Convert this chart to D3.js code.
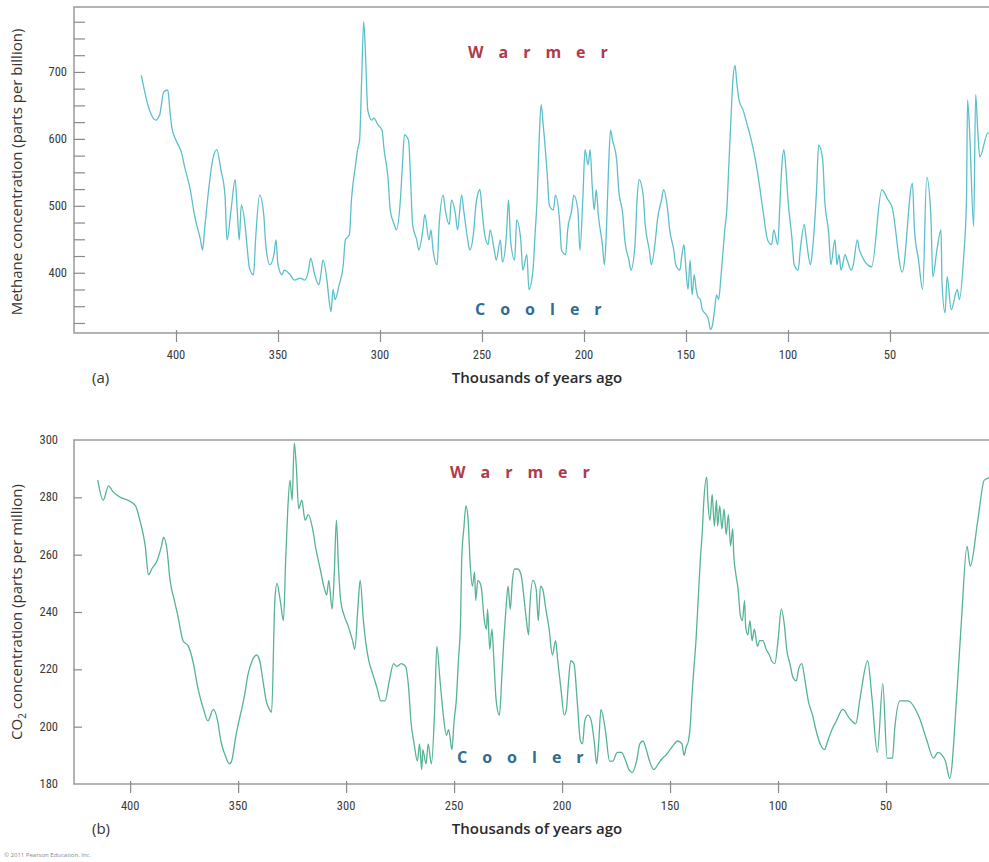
<!DOCTYPE html>
<html>
<head>
<meta charset="utf-8">
<script src="https://cdn.jsdelivr.net/npm/d3@7"></script>
<style>
  body { margin: 0; background: #fff; }
  svg { display: block; font-family: "Liberation Sans Narrow", "Roboto Condensed", "Liberation Sans", sans-serif; }
  .frame { stroke: #9a9a9a; stroke-width: 1.5; fill: none; }
  .tick line { stroke: #8a8a8a; stroke-width: 1.2; }
  .ticklab { font-size: 12.5px; fill: #3a3a3a; }
  .xtitle { font-family: "Open Sans", sans-serif; font-size: 15px; font-weight: 600; fill: #2a2a2a; }
  .ytitle { font-family: "Open Sans", sans-serif; font-size: 15px; fill: #333; }
  .panel { font-family: "Open Sans", sans-serif; font-size: 15px; fill: #333; }
  .warm { font-family: "Open Sans", sans-serif; font-size: 16px; font-weight: bold; fill: #b03a4b; letter-spacing: 15px; }
  .cool { font-family: "Open Sans", sans-serif; font-size: 16px; font-weight: bold; fill: #2f6d93; letter-spacing: 15px; }
</style>
</head>
<body>
<div id="chart"></div>
<script>
// methane record, thousands of years ago / ppb
const ch4Age = [417,413,410,408,406,404,403,402,400,397,396,393,391,388,387,386,384,382,380,378,376,375,373,371,370,369,368,366,365,364,362,361,359,357,356,354,352,351,350,348,347,344,342,339,337,335,334,332,330,329,328,326,325,324,323,322,320,318,317,315,314,312,311,310,309,308,307,306,304,303,301,299,298,296,295,293,292,290,289,288,286,285,284,282,281,279,278,276,275,274,272,271,269,268,266,265,263,262,260,259,257,256,254,253,251,250,249,247,246,244,243,241,240,238,237,236,234,233,231,230,228,227,225,224,223,222,221,220,218,217,215,214,212,211,209,208,206,205,203,202,200.5,199.5,198,197,196,195,194,193,191,190,189,188,187,186,184,183,181,180,178,177,175,174,173,171,170,168,167,165,164,162,161,159,158,156,155,153,152,151,150,149,148,147,146,145,144,143,142,140,139,138,137,136,135,134,133,132,131,130,129,128,127,126,125,124,122,120,118,116,114,112,110,108,107,105,104,103,102,101,100,98,97,95,94,92,91,89,88,86,85,83,82,80,79,77,76,75,74,72,71,69,68,66,65,59,54,51,49,44,39,38,36,34,32,30,29,27,25,24.5,23,22,20,17,16,14,12.5,12,11,9,8,7,6,2,0];
const ch4Ppb = [695,643,628,636,670,673,643,616,598,576,561,524,487,449,434,464,524,569,584,554,516,449,494,539,494,449,501,467,434,407,397,449,516,487,442,412,427,449,412,397,404,397,389,392,389,404,422,397,382,397,419,389,360,342,375,360,382,412,449,457,509,561,584,598,688,775,718,643,628,631,621,613,584,539,494,472,464,509,561,606,598,539,472,449,434,464,487,449,464,434,412,472,516,494,472,509,487,464,516,494,449,434,464,501,524,494,464,442,464,434,419,449,416,457,509,449,419,479,449,404,427,375,404,457,509,598,651,621,546,501,494,516,479,434,427,464,494,516,494,434,516,584,561,584,531,494,524,487,442,412,464,554,613,598,569,524,487,449,419,404,442,509,539,516,472,434,412,449,479,509,524,494,464,434,412,404,427,442,404,375,419,367,397,375,363,360,345,337,330,315,322,345,367,360,389,427,464,494,561,628,688,710,681,658,643,621,598,569,531,487,449,442,464,442,501,561,584,554,509,449,412,404,434,472,449,412,434,524,591,569,509,457,412,449,412,427,404,427,419,404,412,449,434,409,524,509,498,401,534,464,419,375,543,487,394,434,464,385,340,394,345,375,360,419,509,658,613,469,666,613,573,609,600];

// CO2 record, thousands of years ago / ppm
const co2Age = [415,412.5,410,408,404.5,401,397.5,395.5,393,391.5,390,387.5,385.5,384.5,383,381.5,379.5,378,375.5,373,371,368.5,366,364,361.5,359.5,358,356,354,353,351,349,347,345.5,343.5,341.5,340,338.5,337,335.5,334.5,333,332,330.5,329,328,327,326,325,324,323,322,320.5,319,317.5,315.5,314,312,310,309,308,306.5,305.5,304.5,303.5,302.5,301,299,297,296,294.5,293.5,292,291,289.5,287.5,285.5,284,282,280,278,276.5,274.5,272.5,271,270,268.5,267,266,265,264.5,263,262,260.5,259,258,256.5,255,253.5,252.5,251,250,249,248,247,246.5,245.5,244.5,243.5,242.5,241.5,240.5,240,239,237.5,236,235,234.5,233.5,232.5,231.5,230.5,229,228,227,226,225,224,223,222,220.5,219,217.5,216.5,215.5,215,213.5,212,211,210,209,207.5,206,204.5,203,202,200.5,199,198,197,196,194.5,193,191.5,190.5,189.5,188,186.5,185,184,183,182,180,178,176.5,174.5,172.5,171,169,167.5,165.5,164,162.5,161,159.5,157.5,155.5,153.5,152,150,148,146.5,144.5,143.5,142.5,141.5,140.5,140,139,138,137,136,135,134.5,133,132.5,131.5,130.5,129.5,128.5,128,127,126,125,124,123,122,121,120.5,119.5,118.5,117.5,116.5,115.5,115,114,113,112,111,109.5,108.5,107,105.5,104,103,101.5,100,98.5,97,96,94.5,93,91.5,90.5,89,87.5,86,84,82.5,80.5,78.5,77,75,73,70,67,64,62,58.5,56.5,54,51.5,49.5,47,46,43.5,40,34.5,31,28,26,22.5,20.5,17,15,12.5,11,7.5,4.5,1.5,0];
const co2Ppm = [286,279,284,282,280,279,277,272,263,253,255,258,263,266,262,251,244,239,230,228,223,213,206,202,206,202,195,190,187,188,197,204,211,218,223,225,223,216,209,206,205,244,250,244,237,258,276,286,279,299,290,276,279,272,274,269,262,255,248,246,251,241,253,272,255,244,239,235,230,227,242,251,237,230,223,218,213,209,209,216,222,221,222,221,213,202,194,188,194,185,192,187,194,187,206,228,216,204,197,199,192,202,209,223,237,258,269,277,272,256,249,254,244,251,249,237,234,241,227,234,222,209,204,216,230,241,249,241,251,255,255,253,244,237,232,241,251,248,237,249,248,241,234,225,230,223,213,204,206,216,223,222,209,195,194,202,204,202,194,187,195,206,199,188,188,191,191,189,185,184,188,194,195,192,188,185,187,189,190,192,194,195,194,190,193,195,202,209,220,230,244,258,269,277,287,279,272,281,270,279,270,277,269,276,267,274,263,269,260,253,248,239,237,244,235,232,237,230,234,228,230,230,227,225,223,222,230,241,235,227,222,217,216,220,222,216,209,204,199,194,192,195,199,202,206,203,201,210,223,210,191,215,189,189,199,209,209,203,195,189,191,188,182,214,238,263,256,272,286,287];

const ch4Ticks = [400, 500, 600, 700];
const ch4Minor = d3.range(325, 800, 25);
const co2Ticks = [180, 200, 220, 240, 260, 280, 300];
const ageTicks = [400, 350, 300, 250, 200, 150, 100, 50];

const W = 989, H = 862;
const svg = d3.select("#chart").append("svg").attr("width", W).attr("height", H);

function panel(cfg) {
    const x = d3.scaleLinear().domain(cfg.ageDomain).range([74, cfg.xEnd]);
    const y = d3.scaleLinear().domain(cfg.valDomain).range([cfg.bottom, cfg.top]);
    const g = svg.append("g");

    // frame: top, left, bottom (open on the right)
    g.append("path").attr("class", "frame")
        .attr("d", `M${W},${cfg.top}H74V${cfg.bottom}H${W}`);

    // y ticks pointing inward
    const yAxis = g.append("g").attr("transform", "translate(74,0)")
        .call(d3.axisRight(y).tickValues(cfg.yTicks).tickSize(cfg.yTickLen).tickFormat(""));
    yAxis.select(".domain").remove();
    g.selectAll(".ylab").data(cfg.yLabels).enter().append("text")
        .attr("class", "ticklab")
        .attr("x", cfg.yLabX).attr("y", d => y(d) + 4)
        .attr("text-anchor", "end")
        .text(d => d);

    // x ticks
    const xAxis = g.append("g").attr("transform", `translate(0,${cfg.bottom - 3})`)
        .call(d3.axisBottom(x).tickValues(ageTicks).tickSize(cfg.xTickLen).tickFormat(""));
    xAxis.select(".domain").remove();
    g.selectAll(".xlab").data(ageTicks).enter().append("text")
        .attr("class", "ticklab")
        .attr("x", d => x(d)).attr("y", cfg.bottom + 26)
        .attr("text-anchor", "middle")
        .text(d => d);

    const line = d3.line()
        .x((d, i) => x(cfg.age[i]))
        .y(d => y(d))
        .curve(d3.curveMonotoneX);
    g.append("path")
        .datum(cfg.vals)
        .attr("fill", "none")
        .attr("stroke", cfg.color)
        .attr("stroke-width", 1.3)
        .attr("d", line);

    g.append("text").attr("class", "warm")
        .attr("x", cfg.warm[0]).attr("y", cfg.warm[1]).text("Warmer");
    g.append("text").attr("class", "cool")
        .attr("x", cfg.cool[0]).attr("y", cfg.cool[1]).text("Cooler");

    g.append("text").attr("class", "xtitle")
        .attr("x", 537).attr("y", cfg.bottom + 50)
        .attr("text-anchor", "middle").text("Thousands of years ago");
    g.append("text").attr("class", "panel")
        .attr("x", 92).attr("y", cfg.bottom + 50).text(cfg.tag);

    return g;
}

panel({
    age: ch4Age, vals: ch4Ppb, color: "#5cbfca",
    ageDomain: [450, 0], xEnd: 992,
    valDomain: [310, 797], top: 7, bottom: 333,
    yTicks: ch4Minor, yTickLen: 11, yLabels: ch4Ticks, yLabX: 67,
    xTickLen: 12,
    warm: [468, 58], cool: [475, 315], tag: "(a)"
});
panel({
    age: co2Age, vals: co2Ppm, color: "#56b393",
    ageDomain: [426, 0], xEnd: 994,
    valDomain: [180, 300], top: 440, bottom: 784,
    yTicks: co2Ticks.slice(1, -1), yTickLen: 8, yLabels: co2Ticks, yLabX: 58,
    xTickLen: 12,
    warm: [450, 478], cool: [457, 763], tag: "(b)"
});

// y axis titles
svg.append("text").attr("class", "ytitle")
    .attr("transform", "translate(22,172) rotate(-90)")
    .attr("text-anchor", "middle")
    .text("Methane concentration (parts per billion)");
const co2t = svg.append("text").attr("class", "ytitle")
    .attr("transform", "translate(22,612) rotate(-90)")
    .attr("text-anchor", "middle");
co2t.append("tspan").text("CO");
co2t.append("tspan").attr("font-size", "10px").attr("dy", 4).text("2");
co2t.append("tspan").attr("dy", -4).text(" concentration (parts per million)");

svg.append("text")
    .attr("x", 4).attr("y", 857)
    .attr("font-size", 6).attr("fill", "#888")
    .attr("font-family", "Open Sans, sans-serif")
    .text("© 2011 Pearson Education, Inc.");
</script>
</body>
</html>
